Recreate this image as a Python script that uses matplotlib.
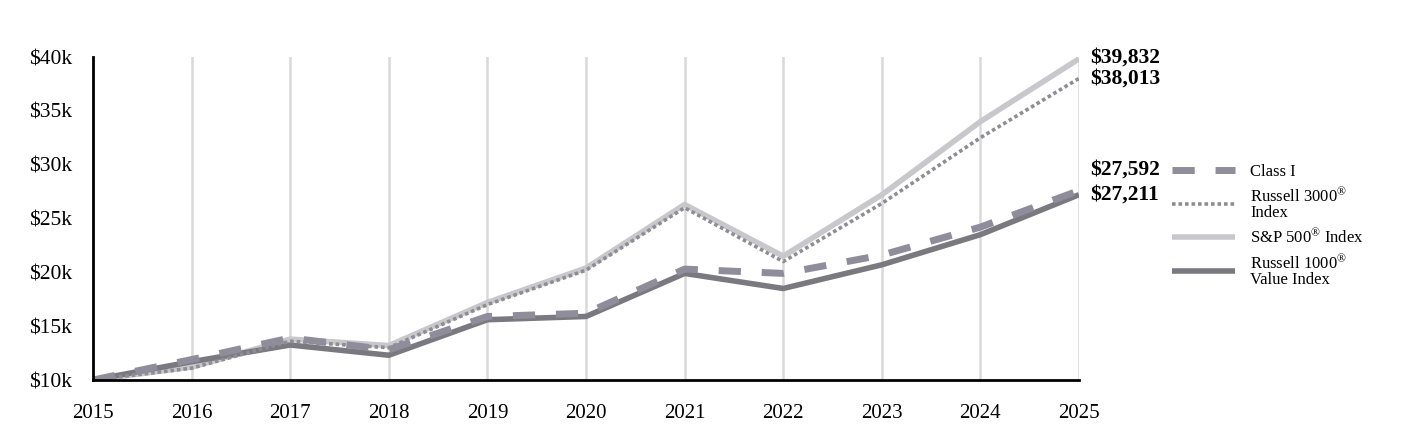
import matplotlib
matplotlib.use("Agg")
import matplotlib.pyplot as plt

# Growth of $10,000
years = [2015, 2016, 2017, 2018, 2019, 2020, 2021, 2022, 2023, 2024, 2025]
class_i = [10000, 11900, 13900, 12800, 15900, 16200, 20300, 19900, 21600, 24200, 27592]
russell_3000 = [10000, 11100, 13600, 13000, 17000, 20200, 26000, 21000, 26400, 32500, 38013]
sp_500 = [10000, 11200, 13800, 13200, 17200, 20400, 26300, 21500, 27200, 34000, 39832]
russell_1000_value = [10000, 11700, 13250, 12300, 15600, 15900, 19900, 18500, 20700, 23500, 27211]

y_ticks = [10000, 15000, 20000, 25000, 30000, 35000, 40000]
y_tick_labels = ["$10k", "$15k", "$20k", "$25k", "$30k", "$35k", "$40k"]

plt.rcParams['font.family'] = ['Liberation Serif', 'DejaVu Serif']
plt.rcParams['mathtext.fontset'] = 'custom'
plt.rcParams['mathtext.rm'] = 'Liberation Serif'
plt.rcParams['mathtext.it'] = 'Liberation Serif:italic'
plt.rcParams['mathtext.bf'] = 'Liberation Serif:bold'
plt.rcParams['mathtext.default'] = 'rm'

fig = plt.figure(figsize=(14.04, 4.44), dpi=100)
ax = fig.add_axes([93/1404, 64/444, 986/1404, 323/444])

R = r"$^{\mathrm{®}}$"
# series: label, values, colour, width, dashes, end-label offset (points)
series = [
    ("S&P 500" + R + " Index", sp_500, "#c8c8cc", 4.0, None, 1),
    ("Russell 1000" + R + "\nValue Index", russell_1000_value, "#7a797f", 4.0, None, 0),
    ("Russell 3000" + R + "\nIndex", russell_3000, "#8e8d93", 2.6, (1.0, 0.8), 0),
    ("Class I", class_i, "#8f8c9b", 5.0, (3.2, 3.0), 15),
]
handles = {}
for label, vals, color, lw, dashes, dy in series:
    line, = ax.plot(years, vals, color=color, lw=lw, solid_capstyle='butt',
                    dash_capstyle='butt', zorder=3)
    if dashes is not None:
        line.set_dashes(dashes)
    handles[label] = line
    ax.annotate(f"${vals[-1]:,}", xy=(years[-1], vals[-1]), xytext=(8, dy),
                textcoords='offset points', ha='left', va='center',
                fontsize=15.5, fontweight='bold', color='black')

ax.set_xlim(2015, 2025)
ax.set_ylim(10000, 40000)
ax.set_xticks(years)
ax.set_xticklabels([str(y) for y in years], fontsize=15)
ax.set_yticks(y_ticks)
ax.set_yticklabels(y_tick_labels, fontsize=15.5)
ax.tick_params(axis='both', length=0)
ax.tick_params(axis='x', pad=17)
ax.tick_params(axis='y', pad=15)
ax.grid(axis='x', color='#d9d9d9', lw=1.8, zorder=0)
ax.grid(axis='y', visible=False)
for side in ['top', 'right']:
    ax.spines[side].set_visible(False)
for side in ['left', 'bottom']:
    ax.spines[side].set_linewidth(2)
    ax.spines[side].set_zorder(4)

order = ["Class I", "Russell 3000" + R + "\nIndex", "S&P 500" + R + " Index",
         "Russell 1000" + R + "\nValue Index"]
leg = ax.legend([handles[k] for k in order], order, loc='upper left',
                bbox_to_anchor=(1165/1404, 1 - 157/444), bbox_transform=fig.transFigure,
                frameon=False, fontsize=12, handlelength=3.8, handletextpad=0.9,
                labelspacing=0.45, borderaxespad=0)
for t in leg.get_texts():
    t.set_linespacing(0.9)

fig.savefig("out.png", dpi=100)
